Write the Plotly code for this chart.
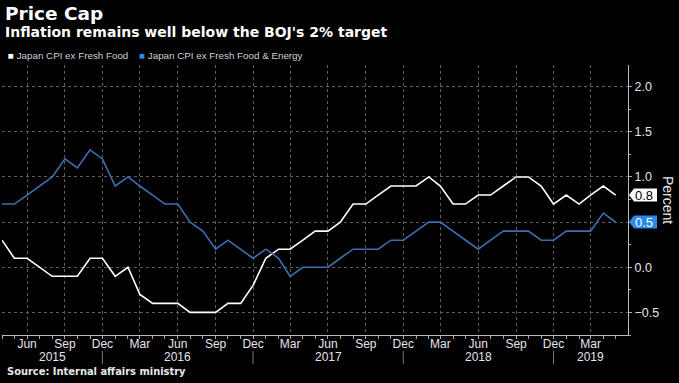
import pandas as pd
import plotly.graph_objects as go

# ---- data ----
months = pd.date_range("2015-04-01", "2019-05-01", freq="MS")
cpi_ex_fresh = [0.3, 0.1, 0.1, 0.0, -0.1, -0.1, -0.1, 0.1, 0.1, -0.1,
                0.0, -0.3, -0.4, -0.4, -0.4, -0.5, -0.5, -0.5, -0.4, -0.4,
                -0.2, 0.1, 0.2, 0.2, 0.3, 0.4, 0.4, 0.5, 0.7, 0.7,
                0.8, 0.9, 0.9, 0.9, 1.0, 0.9, 0.7, 0.7, 0.8, 0.8,
                0.9, 1.0, 1.0, 0.9, 0.7, 0.8, 0.7, 0.8, 0.9, 0.8]
cpi_ex_fresh_energy = [0.7, 0.7, 0.8, 0.9, 1.0, 1.2, 1.1, 1.3, 1.2, 0.9,
                       1.0, 0.9, 0.8, 0.7, 0.7, 0.5, 0.4, 0.2, 0.3, 0.2,
                       0.1, 0.2, 0.1, -0.1, 0.0, 0.0, 0.0, 0.1, 0.2, 0.2,
                       0.2, 0.3, 0.3, 0.4, 0.5, 0.5, 0.4, 0.3, 0.2, 0.3,
                       0.4, 0.4, 0.4, 0.3, 0.3, 0.4, 0.4, 0.4, 0.6, 0.5]
series_names = ["Japan CPI ex Fresh Food", "Japan CPI ex Fresh Food & Energy"]
years = [2015, 2016, 2017, 2018, 2019]
boj_target = 2.0
y_ticks = [-0.5, 0.0, 0.5, 1.0, 1.5, 2.0]

# ---- style ----
WHITE = "#ffffff"
BLUE = "#3f6db2"
CALLOUT_BLUE = "#2a8ae4"
GRID = "#5e5e5e"
TXT = "#e6e6e6"
FONT = "Liberation Sans, Arial, sans-serif"
WIDE = "DejaVu Sans, Verdana, sans-serif"
COND = "DejaVu Sans Condensed, Liberation Sans, Arial, sans-serif"
NARROW = "Liberation Sans Narrow, Liberation Sans, Arial, sans-serif"

x_start = pd.Timestamp("2015-04-01")
x_end = pd.Timestamp("2019-05-31")

fig = go.Figure()
fig.add_trace(go.Scatter(x=months, y=cpi_ex_fresh, mode="lines",
                         line=dict(color=WHITE, width=1.6), name=series_names[0],
                         showlegend=False))
fig.add_trace(go.Scatter(x=months, y=cpi_ex_fresh_energy, mode="lines",
                         line=dict(color=BLUE, width=1.6), name=series_names[1],
                         showlegend=False))

shapes = []
annotations = []

# BOJ target line
shapes.append(dict(type="line", xref="paper", x0=0, x1=1, yref="y", y0=boj_target, y1=boj_target,
                   line=dict(color="#8a3b22", width=1, dash="dot"), layer="below"))

# year labels and separators
for yr in years:
    a = max(x_start, pd.Timestamp(f"{yr-1}-12-01"))
    b = min(x_end, pd.Timestamp(f"{yr}-12-01"))
    mid = a + (b - a) / 2
    annotations.append(dict(x=mid, xref="x", y=0, yref="paper", yshift=-22, text=str(yr),
                            showarrow=False, yanchor="middle", xanchor="center",
                            font=dict(family=NARROW, size=12, color=TXT)))
    sep = pd.Timestamp(f"{yr}-12-01")
    if x_start < sep < x_end:
        shapes.append(dict(type="line", xref="x", x0=sep, x1=sep, yref="paper",
                           ysizemode="pixel", yanchor=0, y0=-16, y1=-29,
                           line=dict(color="#777777", width=1)))

# callouts for latest values
for vals, bg, fg in [(cpi_ex_fresh, WHITE, "#000000"), (cpi_ex_fresh_energy, CALLOUT_BLUE, "#ffffff")]:
    v = vals[-1]
    shapes.append(dict(type="path", xref="paper", xsizemode="pixel", xanchor=1,
                       yref="y", ysizemode="pixel", yanchor=v,
                       path="M1,0 L6,6.5 L29,6.5 L29,-6.5 L6,-6.5 Z",
                       fillcolor=bg, line=dict(width=0), layer="above"))
    annotations.append(dict(x=1, xref="paper", xshift=16, y=v, yref="y", text=f"{v:.1f}",
                            showarrow=False, xanchor="center", yanchor="middle",
                            font=dict(family=NARROW, size=13, color=fg)))

# axis title
annotations.append(dict(x=1, xref="paper", xshift=40, y=0.5, yref="paper", text="Percent",
                        textangle=90, showarrow=False, xanchor="center", yanchor="middle",
                        font=dict(family=FONT, size=14, color=TXT)))

# titles
annotations.append(dict(x=0, xref="paper", xshift=1, y=1, yref="paper", yshift=52,
                        text="<b>Price Cap</b>", showarrow=False, xanchor="left", yanchor="middle",
                        font=dict(family=WIDE, size=18.5, color="#ffffff")))
annotations.append(dict(x=0, xref="paper", xshift=1, y=1, yref="paper", yshift=33,
                        text="<b>Inflation remains well below the BOJ's 2% target</b>",
                        showarrow=False, xanchor="left", yanchor="middle",
                        font=dict(family=WIDE, size=14, color="#ffffff")))
# legend
annotations.append(dict(x=0, xref="paper", xshift=4, y=1, yref="paper", yshift=10,
                        text=f"<span style='color:{WHITE}'>■</span> {series_names[0]}"
                             f"&nbsp;&nbsp;&nbsp;&nbsp;<span style='color:{CALLOUT_BLUE}'>■</span> {series_names[1]}",
                        showarrow=False, xanchor="left", yanchor="middle",
                        font=dict(family=FONT, size=9.8, color="#cfcfcf")))
# source
annotations.append(dict(x=0, xref="paper", xshift=3, y=0, yref="paper", yshift=-36,
                        text="<b>Source: Internal affairs ministry</b>", showarrow=False,
                        xanchor="left", yanchor="middle",
                        font=dict(family=COND, size=11, color="#e8e8e8")))

fig.update_layout(
    width=679, height=383,
    margin=dict(l=2, r=51, t=65, b=48),
    paper_bgcolor="#000000", plot_bgcolor="#000000",
    shapes=shapes, annotations=annotations,
    showlegend=False,
    xaxis=dict(range=[x_start, x_end], type="date", dtick="M3", tick0="2015-06-01",
               tickformat="%b", showgrid=True, gridcolor=GRID, griddash="dot", gridwidth=1,
               ticks="outside", ticklen=3, tickcolor="#aaaaaa", ticklabelstandoff=-5,
               minor=dict(dtick="M1", ticks="outside", ticklen=3, tickcolor="#aaaaaa", showgrid=False),
               showline=True, linecolor="#bbbbbb", linewidth=1,
               tickfont=dict(family=NARROW, size=12, color=TXT), zeroline=False),
    yaxis=dict(range=[-0.75, 2.24], side="right", tickvals=y_ticks, tickformat=".1f",
               showgrid=True, gridcolor=GRID, griddash="dot", gridwidth=1,
               ticks="outside", ticklen=3, tickcolor="#aaaaaa",
               minor=dict(dtick=0.25, ticks="outside", ticklen=2, tickcolor="#aaaaaa", showgrid=False),
               showline=True, linecolor="#bbbbbb", linewidth=1, zeroline=False,
               tickfont=dict(family=NARROW, size=12.5, color=TXT)),
)

fig.write_html("out.html", config={"displayModeBar": False},
               post_script="document.body.style.margin='0';")
